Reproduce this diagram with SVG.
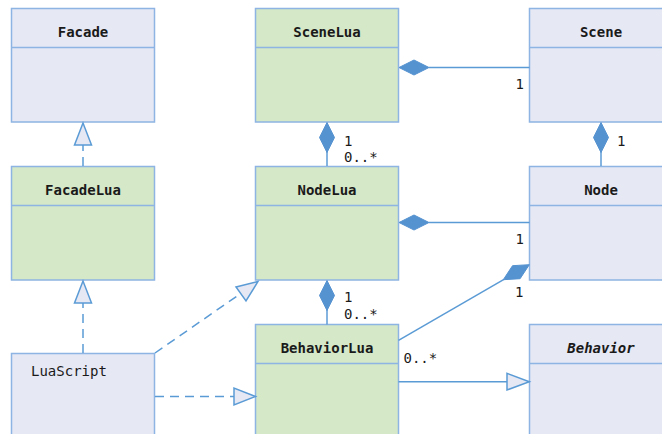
<svg xmlns="http://www.w3.org/2000/svg" width="662" height="434" viewBox="0 0 662 434">
<style>
.box{stroke:#8db4e2;stroke-width:1.5}
.g{fill:#d5e8c8}
.l{fill:#e6e8f4}
.t{font-family:"DejaVu Sans Mono","Liberation Mono",monospace;font-size:14px;fill:#1a1a1a}
.b{font-weight:bold;text-anchor:middle}
.c{stroke:#5b9bd5;stroke-width:1.5;fill:none}
.d{stroke-dasharray:9 6}
.dia{fill:#5592d0;stroke:#5592d0;stroke-width:1}
.tri{fill:#e6e8f4;stroke:#5b9bd5;stroke-width:1.5}
</style>
<rect width="662" height="434" fill="#ffffff"/>
<g id="Facade">
<rect class="box l" x="11.5" y="8.5" width="143" height="113.5"/>
<line class="box" x1="11.5" y1="47.5" x2="154.5" y2="47.5"/>
<text class="t b" x="83" y="36.5">Facade</text>
</g>
<g id="FacadeLua">
<rect class="box g" x="11.5" y="166.5" width="143" height="113.5"/>
<line class="box" x1="11.5" y1="205.5" x2="154.5" y2="205.5"/>
<text class="t b" x="83" y="194.5">FacadeLua</text>
</g>
<g id="LuaScript">
<rect class="box l" x="11.5" y="353.5" width="143" height="100"/>
<text class="t" x="31" y="376">LuaScript</text>
</g>
<g id="SceneLua">
<rect class="box g" x="255.5" y="8.5" width="143" height="113.5"/>
<line class="box" x1="255.5" y1="47.5" x2="398.5" y2="47.5"/>
<text class="t b" x="327" y="36.5">SceneLua</text>
</g>
<g id="NodeLua">
<rect class="box g" x="255.5" y="166.5" width="143" height="113.5"/>
<line class="box" x1="255.5" y1="205.5" x2="398.5" y2="205.5"/>
<text class="t b" x="327" y="194.5">NodeLua</text>
</g>
<g id="BehaviorLua">
<rect class="box g" x="255.5" y="324.5" width="143" height="130"/>
<line class="box" x1="255.5" y1="363.5" x2="398.5" y2="363.5"/>
<text class="t b" x="327" y="352.5">BehaviorLua</text>
</g>
<g id="Scene">
<rect class="box l" x="529.5" y="8.5" width="143" height="113.5"/>
<line class="box" x1="529.5" y1="47.5" x2="672.5" y2="47.5"/>
<text class="t b" x="601" y="36.5">Scene</text>
</g>
<g id="Node">
<rect class="box l" x="529.5" y="166.5" width="143" height="113.5"/>
<line class="box" x1="529.5" y1="205.5" x2="672.5" y2="205.5"/>
<text class="t b" x="601" y="194.5">Node</text>
</g>
<g id="Behavior">
<rect class="box l" x="529.5" y="324.5" width="143" height="130"/>
<line class="box" x1="529.5" y1="363.5" x2="672.5" y2="363.5"/>
<text class="t b" x="601" y="352.5" font-style="italic">Behavior</text>
</g>
<g id="connectors">
<!-- FacadeLua realizes Facade -->
<line class="c d" x1="83" y1="166" x2="83" y2="145"/>
<polygon class="tri" points="83,123 74.5,145 91.5,145"/>
<!-- LuaScript realizes FacadeLua -->
<line class="c d" x1="83" y1="353" x2="83" y2="303"/>
<polygon class="tri" points="83,281 74.5,303 91.5,303"/>
<!-- LuaScript to NodeLua -->
<line class="c d" x1="155" y1="353" x2="240" y2="294"/>
<polygon class="tri" points="258,281.5 236,287 246,301"/>
<!-- LuaScript to BehaviorLua -->
<line class="c d" x1="155" y1="396.5" x2="234" y2="396.5"/>
<polygon class="tri" points="255.5,396.5 234,388 234,405"/>
<!-- SceneLua - Scene -->
<line class="c" x1="429" y1="67.5" x2="529.5" y2="67.5"/>
<polygon class="dia" points="399,67.5 414,60 429,67.5 414,75"/>
<text class="t" x="515.5" y="89">1</text>
<!-- SceneLua - NodeLua -->
<line class="c" x1="327" y1="152" x2="327" y2="166"/>
<polygon class="dia" points="327,122.5 334.5,137.5 327,152.5 319.5,137.5"/>
<text class="t" x="344" y="145.5">1</text>
<text class="t" x="344" y="161.5">0..*</text>
<!-- Scene - Node -->
<line class="c" x1="601" y1="152" x2="601" y2="166"/>
<polygon class="dia" points="601,122.5 608.5,137.5 601,152.5 593.5,137.5"/>
<text class="t" x="617" y="145.5">1</text>
<!-- NodeLua - Node -->
<line class="c" x1="429" y1="222.5" x2="529.5" y2="222.5"/>
<polygon class="dia" points="399,222.5 414,215 429,222.5 414,230"/>
<text class="t" x="515.5" y="244.3">1</text>
<!-- NodeLua - BehaviorLua -->
<line class="c" x1="327" y1="310" x2="327" y2="324.5"/>
<polygon class="dia" points="327,280.5 334.5,295.5 327,310.5 319.5,295.5"/>
<text class="t" x="344" y="302">1</text>
<text class="t" x="344" y="318.7">0..*</text>
<!-- Node - BehaviorLua -->
<line class="c" x1="398.5" y1="340.3" x2="504" y2="279.3"/>
<polygon class="dia" points="529.3,264.7 512.5,265.7 503.3,279.7 520.1,278.7"/>
<text class="t" x="515" y="297">1</text>
<text class="t" x="403.5" y="362.7">0..*</text>
<!-- BehaviorLua generalizes Behavior -->
<line class="c" x1="398.5" y1="381.7" x2="507" y2="381.7"/>
<polygon class="tri" points="529.3,381.7 507,373.3 507,390"/>
</g>
</svg>
